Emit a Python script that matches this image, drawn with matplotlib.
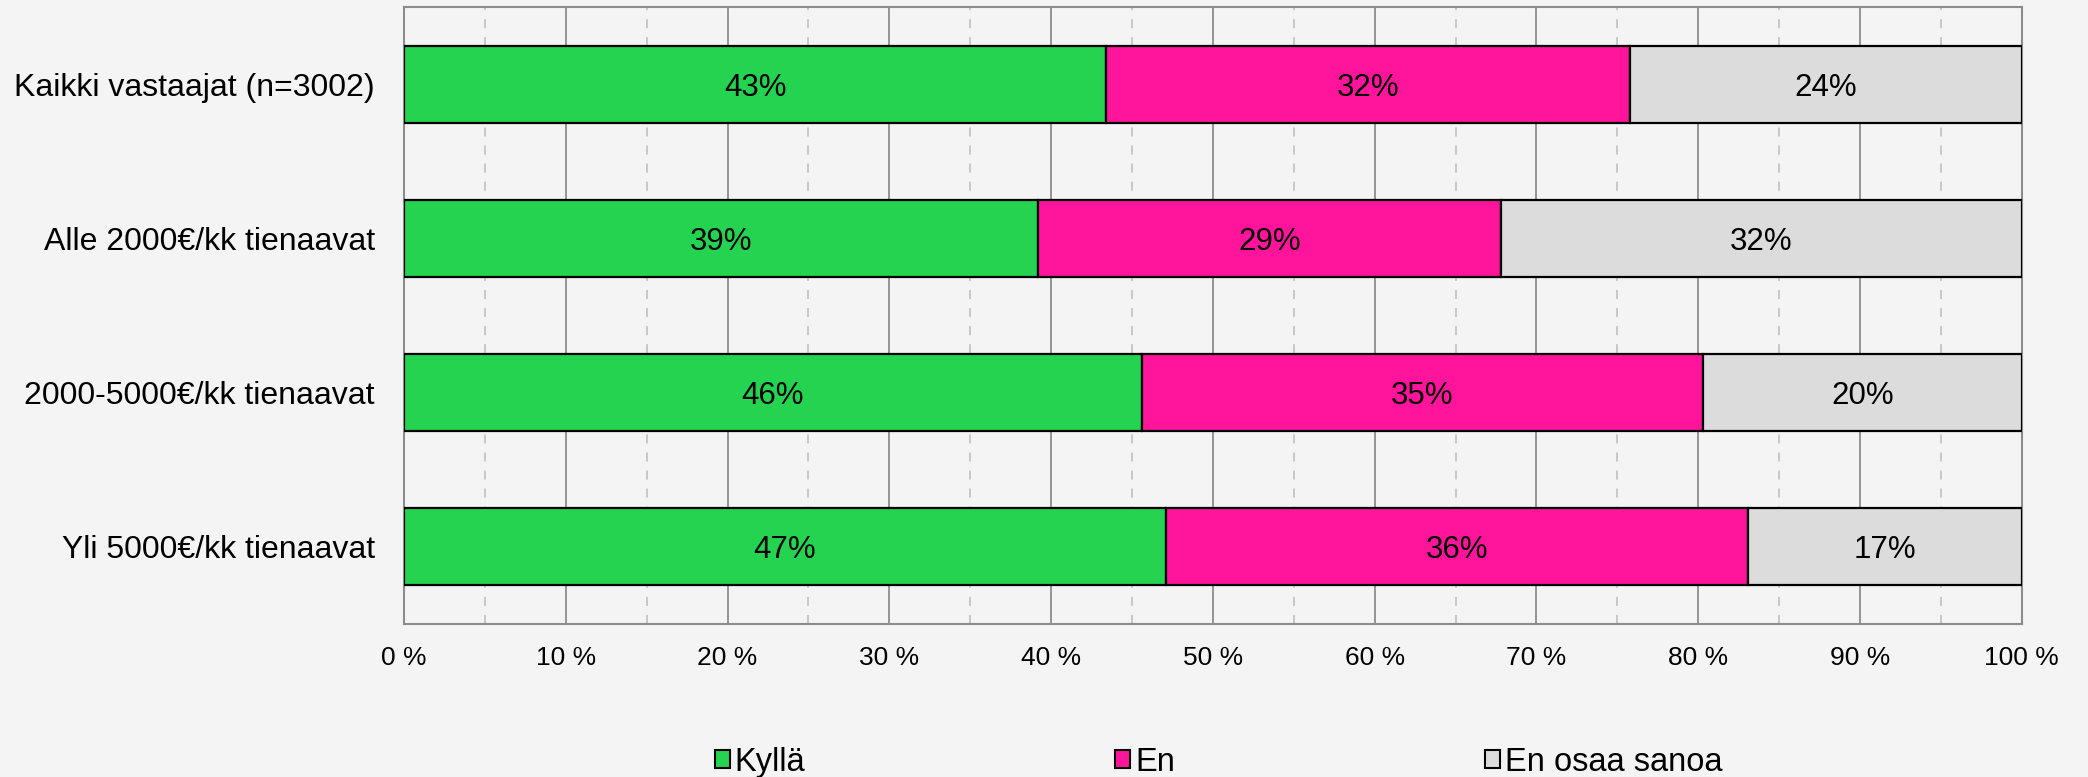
import matplotlib
matplotlib.use("Agg")
import matplotlib.pyplot as plt
from matplotlib.patches import Patch
from matplotlib.ticker import MultipleLocator, FuncFormatter
import numpy as np

categories = ["Kaikki vastaajat (n=3002)", "Alle 2000€/kk tienaavat",
              "2000-5000€/kk tienaavat", "Yli 5000€/kk tienaavat"]
series_names = ["Kyllä", "En", "En osaa sanoa"]
kylla = [43.4, 39.2, 45.6, 47.1]
en = [32.4, 28.6, 34.7, 36.0]
eos = [24.2, 32.2, 19.7, 16.9]
colors = ["#24d34f", "#ff149b", "#dcdcdc"]

plt.rcParams['font.family'] = ['Liberation Sans', 'DejaVu Sans']
bg = "#f4f4f4"
fig = plt.figure(figsize=(20.88, 7.77), dpi=100, facecolor=bg)
ax = fig.add_axes([0.1935, 0.197, 0.7748, 0.794], facecolor=bg)

y = np.arange(len(categories))
left = np.zeros(len(categories))
for vals, name, col in zip([kylla, en, eos], series_names, colors):
    vals = np.array(vals)
    ax.barh(y, vals, left=left, height=0.5, color=col, edgecolor="black",
            linewidth=1.6, label=name, zorder=3)
    for yi, l, v in zip(y, left, vals):
        ax.text(l + v / 2, yi, f"{v:.0f}%", ha="center", va="center_baseline",
                fontsize=22.5, color="black", zorder=4)
    left = left + vals

ax.set_xlim(0, 100)
ax.set_ylim(3.5, -0.5)
ax.set_yticks(y)
ax.set_yticklabels(categories, fontsize=23)
ax.xaxis.set_major_locator(MultipleLocator(10))
ax.xaxis.set_minor_locator(MultipleLocator(5))
ax.xaxis.set_major_formatter(FuncFormatter(lambda v, p: f"{v:.0f} %"))
ax.tick_params(axis="x", which="both", length=0, labelsize=19, pad=16)
ax.tick_params(axis="y", length=0, pad=21)
ax.grid(axis="x", which="major", color="#8c8c8c", linewidth=1.3, zorder=0)
ax.grid(axis="x", which="minor", color="#c4c4c4", linewidth=1.3,
        linestyle=(0, (5, 5)), zorder=0)
ax.set_axisbelow(True)
for s in ax.spines.values():
    s.set_color("#8c8c8c")
    s.set_linewidth(1.5)

handles = [Patch(facecolor=c, edgecolor="black", linewidth=1.5) for c in colors]
fig.legend(handles, series_names, loc="center", bbox_to_anchor=(0.5836, 0.019),
           ncol=3, frameon=False, fontsize=23.5, handlelength=0.46,
           handleheight=0.5, handletextpad=0.15, columnspacing=9.5,
           borderpad=0, borderaxespad=0)

fig.savefig("out.png", dpi=100, facecolor=bg)
